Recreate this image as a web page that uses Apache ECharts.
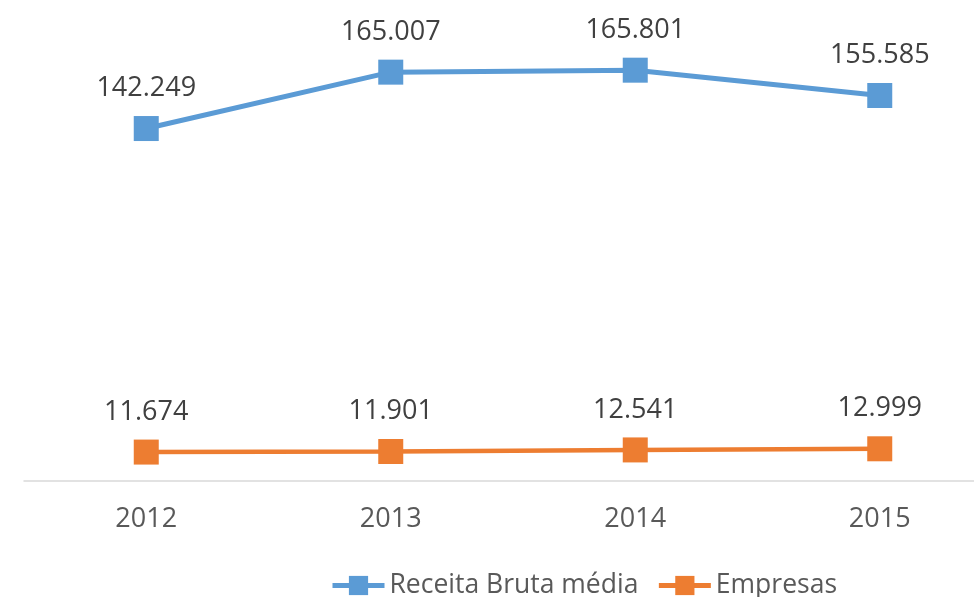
<!DOCTYPE html>
<html><head><meta charset="utf-8">
<script src="https://cdn.jsdelivr.net/npm/echarts@6/dist/echarts.min.js"></script>
<style>html,body{margin:0;padding:0;background:#fff}#c{width:974px;height:597px}</style>
</head><body><div id="c"></div>
<script>
var categories = ['2012', '2013', '2014', '2015'];
var receitaBruta = [142.249, 165.007, 165.801, 155.585];
var empresas = [11.674, 11.901, 12.541, 12.999];
var seriesNames = ['Receita Bruta média', 'Empresas'];

var FONT = '"Open Sans", "Noto Sans", sans-serif';
function fmt(v) { return v.toFixed(3); }
var chart = echarts.init(document.getElementById('c'), null, {renderer: 'canvas'});
function mkSeries(name, data, color, lw) {
  return {
    name: name, type: 'line', data: data,
    symbol: 'rect', symbolSize: 25,
    lineStyle: {color: color, width: lw},
    itemStyle: {color: color},
    label: {show: true, position: 'top', distance: 14, color: '#404040',
      fontFamily: FONT, fontSize: 27, formatter: function (p) { return fmt(p.value); }},
    emphasis: {disabled: true}, animation: false
  };
}
chart.setOption({
  animation: false,
  grid: {left: 24, width: 978, top: 35, bottom: 116, containLabel: false, outerBoundsMode: 'none'},
  legend: {
    left: 325, bottom: -7, itemWidth: 52, itemHeight: 24, itemGap: 18,
    lineStyle: {width: 5},
    textStyle: {fontFamily: FONT, fontSize: 26.5, color: '#595959'},
    data: seriesNames
  },
  xAxis: {
    type: 'category', data: categories, boundaryGap: true,
    axisLine: {lineStyle: {color: '#D9D9D9', width: 1.5}},
    axisTick: {show: false},
    axisLabel: {color: '#595959', fontFamily: FONT, fontSize: 27, margin: 25}
  },
  yAxis: {type: 'value', min: 0, max: 180, show: false, splitLine: {show: false}},
  series: [
    mkSeries(seriesNames[0], receitaBruta, '#5B9BD5', 5),
    mkSeries(seriesNames[1], empresas, '#ED7D31', 4.5)
  ]
});
</script></body></html>
